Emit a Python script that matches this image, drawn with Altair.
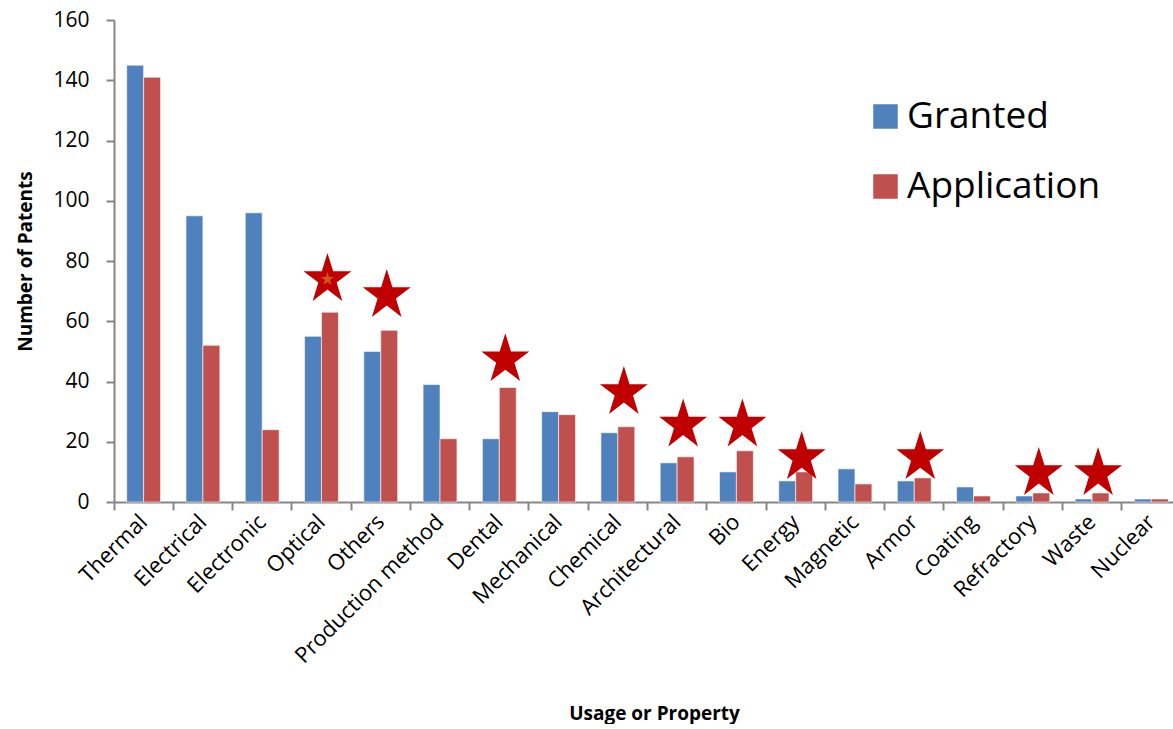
import altair as alt
import pandas as pd

categories = ["Thermal", "Electrical", "Electronic", "Optical", "Others",
              "Production method", "Dental", "Mechanical", "Chemical",
              "Architectural", "Bio", "Energy", "Magnetic", "Armor",
              "Coating", "Refractory", "Waste", "Nuclear"]
granted = [145, 95, 96, 55, 50, 39, 21, 30, 23, 13, 10, 7, 11, 7, 5, 2, 1, 1]
application = [141, 52, 24, 63, 57, 21, 38, 29, 25, 15, 17, 10, 6, 8, 2, 3, 3, 1]
series = ["Granted", "Application"]
colors = ["#4F81BD", "#C0504D"]

star_categories = ["Optical", "Others", "Dental", "Chemical", "Architectural",
                   "Bio", "Energy", "Armor", "Refractory", "Waste"]
star_levels = [74.7, 69.4, 48.1, 37.2, 26.4, 26.4, 15.6, 15.6, 10.3, 10.3]
inner_star_categories = ["Optical"]
inner_star_levels = [74.2]

rows = []
for c, g, a in zip(categories, granted, application):
    rows.append({"category": c, "series": "Granted", "value": g})
    rows.append({"category": c, "series": "Application", "value": a})
df = pd.DataFrame(rows)
star_df = pd.DataFrame({"category": star_categories, "value": star_levels})
inner_df = pd.DataFrame({"category": inner_star_categories,
                         "value": inner_star_levels})

FONT = "Open Sans"
GREY = "#868686"
STAR_PATH = ("M0,-0.951L0.2245,-0.2244L0.9511,-0.2244L0.3633,0.2244"
             "L0.5878,0.951L0,0.502L-0.5878,0.951L-0.3633,0.2244"
             "L-0.9511,-0.2244L-0.2245,-0.2244Z")

x_axis = alt.Axis(
    title="Usage or Property", labelAngle=-45, labelAlign="right",
    labelBaseline="middle", labelFont=FONT, labelFontSize=22,
    labelColor="black", labelPadding=8, labelOverlap=False, labelLimit=400,
    tickSize=8, tickColor=GREY, tickWidth=2, domainColor=GREY,
    domainWidth=2, bandPosition=0, titleFont=FONT, titleFontSize=19,
    titleFontWeight="bold", titleColor="black", titleY=217,
    titleBaseline="alphabetic", titleX=540,
)
y_axis = alt.Axis(
    title="Number of Patents", values=list(range(0, 161, 20)), grid=False,
    tickSize=8, tickColor=GREY, tickWidth=2, domainColor=GREY,
    domainWidth=2, labelFont=FONT, labelFontSize=21, labelColor="black",
    labelPadding=17, titleFont=FONT, titleFontSize=19,
    titleFontWeight="bold", titleColor="black", titleX=-89, titleY=241,
    titleAngle=270, titleBaseline="middle", titleAlign="center",
)

bars = alt.Chart(df).mark_bar(stroke="white", strokeWidth=0.6).encode(
    x=alt.X("category:N", sort=categories,
            scale=alt.Scale(paddingInner=0, paddingOuter=0, range=[0, 1067]),
            axis=x_axis),
    xOffset=alt.XOffset("series:N", sort=series,
                        scale=alt.Scale(paddingInner=0, paddingOuter=0.75)),
    y=alt.Y("value:Q", scale=alt.Scale(domain=[0, 160], nice=False), axis=y_axis),
    color=alt.Color("series:N", sort=series,
                    scale=alt.Scale(domain=series, range=colors),
                    legend=alt.Legend(
                        title=None, orient="none", legendX=753, legendY=78,
                        symbolType="square", symbolSize=600,
                        symbolStrokeWidth=0, labelFont=FONT, labelFontSize=37,
                        labelColor="black", rowPadding=32, labelOffset=3,
                        labelLimit=0, direction="vertical")),
)

stars = alt.Chart(star_df).mark_point(
    shape=STAR_PATH, filled=True, size=2540, color="#C00000", opacity=1,
    strokeWidth=0, xOffset=6,
).encode(
    x=alt.X("category:N", sort=categories),
    y=alt.Y("value:Q"),
)

inner_stars = alt.Chart(inner_df).mark_point(
    shape=STAR_PATH, filled=True, size=190, color="#D4561C", opacity=1,
    strokeWidth=0, xOffset=6,
).encode(
    x=alt.X("category:N", sort=categories),
    y=alt.Y("value:Q"),
)

chart = alt.layer(bars, stars, inner_stars).properties(
    width=1059, height=482,
    autosize=alt.AutoSizeParams(type="none"),
    padding={"left": 114, "top": 20, "right": 0, "bottom": 222},
).configure_view(stroke=None)

chart.save("out.html", embed_options={"renderer": "svg", "actions": False})
